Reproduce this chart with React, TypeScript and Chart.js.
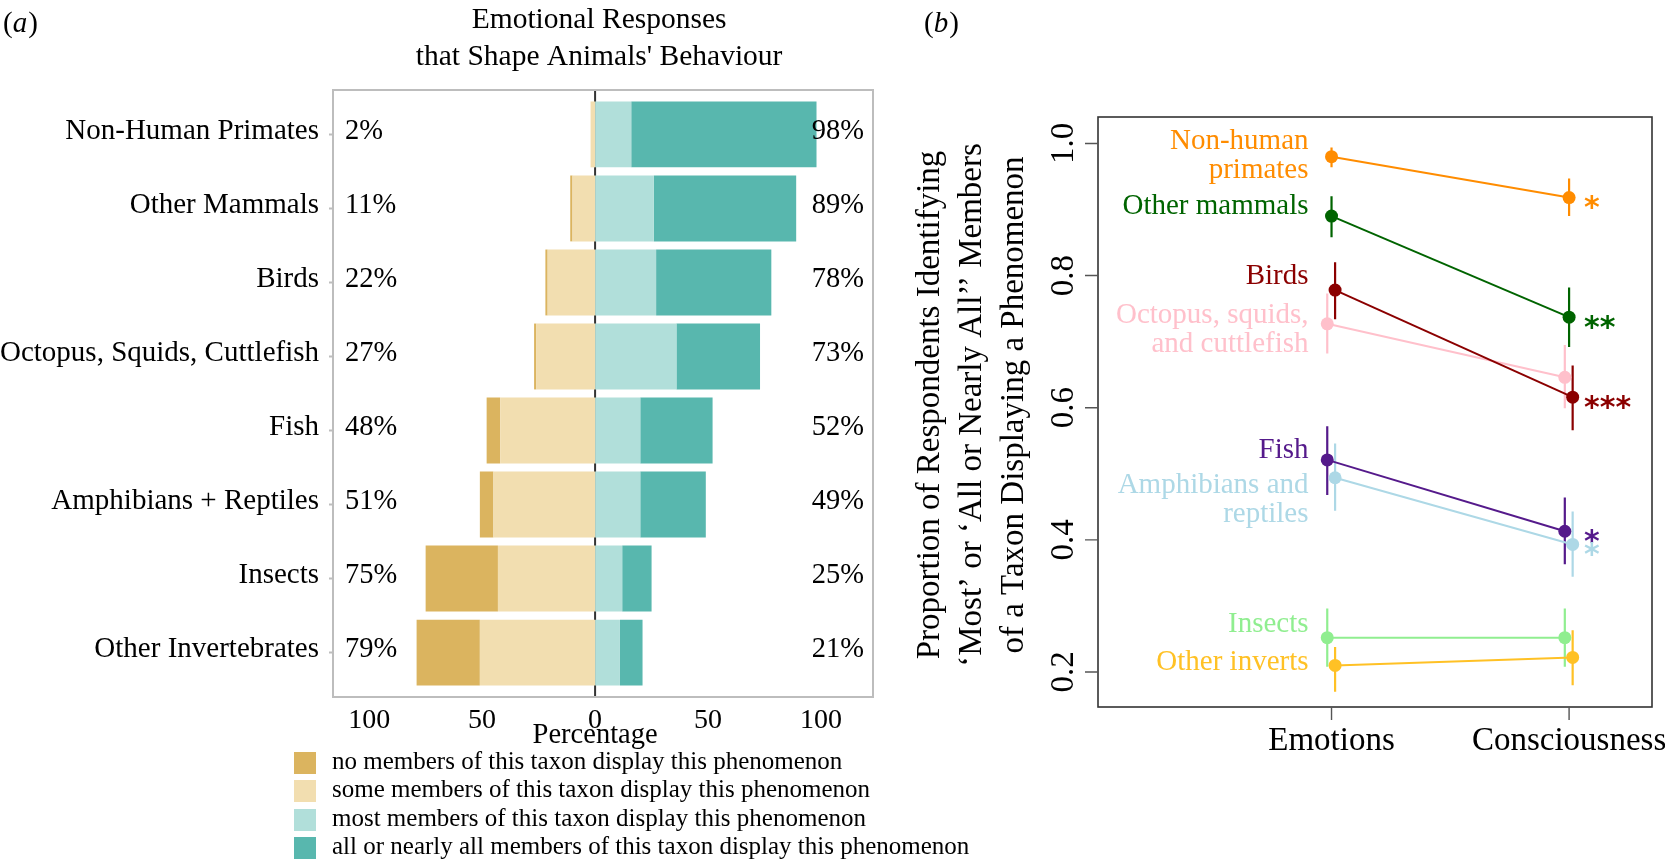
import { useEffect, useRef } from 'react';
import { Chart, registerables } from 'chart.js';

Chart.register(...registerables);

// ---- panel (a): diverging stacked bars ----
const taxa = [
  'Non-Human Primates',
  'Other Mammals',
  'Birds',
  'Octopus, Squids, Cuttlefish',
  'Fish',
  'Amphibians + Reptiles',
  'Insects',
  'Other Invertebrates',
];
const noneMembers = [0, 1, 1, 1, 6, 6, 32, 28];
const someMembers = [2, 10, 21, 26, 42, 45, 43, 51];
const mostMembers = [16, 26, 27, 36, 20, 20, 12, 11];
const allMembers = [82, 63, 51, 37, 32, 29, 13, 10];
const percentTicks = [-100, -50, 0, 50, 100];
const legendLabels = [
  'no members of this taxon display this phenomenon',
  'some members of this taxon display this phenomenon',
  'most members of this taxon display this phenomenon',
  'all or nearly all members of this taxon display this phenomenon',
];
const legendColors = ['#dbb45f', '#f2deb0', '#b1dfda', '#58b7ae'];

// ---- panel (b): proportions with error bars ----
const taxonLabels = [
  ['Non-human', 'primates'],
  ['Other mammals'],
  ['Birds'],
  ['Octopus, squids,', 'and cuttlefish'],
  ['Fish'],
  ['Amphibians and', 'reptiles'],
  ['Insects'],
  ['Other inverts'],
];
const taxonColors = ['#ff8c00', '#006400', '#8b0000', '#ffc0cb', '#551a8b', '#add8e6', '#90ee90', '#ffc125'];
const phenomena = ['Emotions', 'Consciousness'];
const emotionsProp = [0.98, 0.89, 0.778, 0.727, 0.521, 0.494, 0.252, 0.21];
const emotionsLow = [0.964, 0.858, 0.734, 0.682, 0.468, 0.444, 0.208, 0.17];
const emotionsHigh = [0.994, 0.92, 0.82, 0.773, 0.572, 0.546, 0.296, 0.238];
const consciousProp = [0.918, 0.737, 0.616, 0.646, 0.413, 0.393, 0.252, 0.222];
const consciousLow = [0.89, 0.692, 0.566, 0.599, 0.363, 0.344, 0.208, 0.18];
const consciousHigh = [0.947, 0.782, 0.664, 0.695, 0.464, 0.443, 0.296, 0.263];
const significance = ['*', '**', '***', '', '*', '*', '', ''];
const jitter = [0, 0, 0.015, -0.018, -0.018, 0.015, -0.018, 0.015];
const labelAnchor = [0.991, 0.893, 0.787, 0.728, 0.524, 0.471, 0.26, 0.203];
const proportionTicks = [0.2, 0.4, 0.6, 0.8, 1.0];
const yTitle = [
  'Proportion of Respondents Identifying',
  '\u2018Most\u2019 or \u2018All or Nearly All\u2019\u2019 Members',
  'of a Taxon Displaying a Phenomenon',
];

const serif = '"Liberation Serif", "Times New Roman", serif';

const leftDecor = {
  id: 'leftDecor',
  beforeDatasetsDraw(chart: any) {
    const { ctx, chartArea: a, scales } = chart;
    const x0 = scales.x.getPixelForValue(0);
    ctx.save();
    ctx.strokeStyle = '#333';
    ctx.lineWidth = 2;
    ctx.beginPath();
    ctx.moveTo(x0, a.top);
    ctx.lineTo(x0, a.bottom);
    ctx.stroke();
    ctx.restore();
  },
  afterDraw(chart: any) {
    const { ctx, chartArea: a, scales } = chart;
    const { x, y } = scales;
    ctx.save();
    ctx.strokeStyle = '#bdbdbd';
    ctx.lineWidth = 2;
    ctx.strokeRect(a.left, a.top, a.right - a.left, a.bottom - a.top);
    ctx.beginPath();
    taxa.forEach((_, i) => {
      const py = y.getPixelForValue(i);
      ctx.moveTo(a.left - 4, py);
      ctx.lineTo(a.left, py);
    });
    ctx.stroke();

    ctx.fillStyle = '#000';
    ctx.textBaseline = 'alphabetic';
    ctx.font = `29px ${serif}`;
    ctx.textAlign = 'right';
    taxa.forEach((t, i) => ctx.fillText(t, a.left - 14, y.getPixelForValue(i) + 4.5));

    ctx.font = `28.5px ${serif}`;
    taxa.forEach((_, i) => {
      const py = y.getPixelForValue(i) + 4.5;
      ctx.textAlign = 'left';
      ctx.fillText(`${noneMembers[i] + someMembers[i]}%`, a.left + 12, py);
      ctx.textAlign = 'right';
      ctx.fillText(`${mostMembers[i] + allMembers[i]}%`, a.right - 9, py);
    });

    ctx.textAlign = 'center';
    ctx.font = `28px ${serif}`;
    percentTicks.forEach((v) => ctx.fillText(String(Math.abs(v)), x.getPixelForValue(v), a.bottom + 31));
    ctx.font = `28.5px ${serif}`;
    ctx.fillText('Percentage', x.getPixelForValue(0), a.bottom + 46);

    const cx = x.getPixelForValue(0) + 4;
    ctx.font = `29.5px ${serif}`;
    ctx.fillText('Emotional Responses', cx, a.top - 62);
    ctx.fillText("that Shape Animals' Behaviour", cx, a.top - 25);

    ctx.textAlign = 'left';
    ctx.font = `29px ${serif}`;
    ctx.fillText('(', 3, 32);
    const w1 = ctx.measureText('(').width;
    ctx.font = `italic 29px ${serif}`;
    ctx.fillText('a', 3 + w1, 32);
    const w2 = ctx.measureText('a').width;
    ctx.font = `29px ${serif}`;
    ctx.fillText(')', 3 + w1 + w2 + 1, 32);
    ctx.restore();
  },
};

const rightDecor = {
  id: 'rightDecor',
  beforeDatasetsDraw(chart: any) {
    const { ctx, scales } = chart;
    const { x, y } = scales;
    ctx.save();
    ctx.lineWidth = 2.2;
    taxonColors.forEach((c, i) => {
      ctx.strokeStyle = c;
      ctx.beginPath();
      const xe = x.getPixelForValue(0 + jitter[i]);
      ctx.moveTo(xe, y.getPixelForValue(emotionsLow[i]));
      ctx.lineTo(xe, y.getPixelForValue(emotionsHigh[i]));
      const xc = x.getPixelForValue(1 + jitter[i]);
      ctx.moveTo(xc, y.getPixelForValue(consciousLow[i]));
      ctx.lineTo(xc, y.getPixelForValue(consciousHigh[i]));
      ctx.stroke();
    });
    ctx.restore();
  },
  afterDraw(chart: any) {
    const { ctx, chartArea: a, scales } = chart;
    const { x, y } = scales;
    ctx.save();
    ctx.strokeStyle = '#333';
    ctx.lineWidth = 1.6;
    ctx.strokeRect(a.left, a.top, a.right - a.left, a.bottom - a.top);

    ctx.strokeStyle = '#555';
    ctx.lineWidth = 1.4;
    ctx.beginPath();
    proportionTicks.forEach((v) => {
      const py = y.getPixelForValue(v);
      ctx.moveTo(a.left - 13, py);
      ctx.lineTo(a.left, py);
    });
    phenomena.forEach((_, i) => {
      const px = x.getPixelForValue(i);
      ctx.moveTo(px, a.bottom);
      ctx.lineTo(px, a.bottom + 13);
    });
    ctx.stroke();

    ctx.fillStyle = '#000';
    ctx.textBaseline = 'alphabetic';
    ctx.textAlign = 'center';
    ctx.font = `33px ${serif}`;
    proportionTicks.forEach((v) => {
      ctx.save();
      ctx.translate(a.left - 25, y.getPixelForValue(v));
      ctx.rotate(-Math.PI / 2);
      ctx.fillText(v.toFixed(1), 0, 0);
      ctx.restore();
    });
    phenomena.forEach((p, i) => ctx.fillText(p, x.getPixelForValue(i), a.bottom + 43));

    const midY = (a.top + a.bottom) / 2 - 7;
    const titleX = [a.left - 159, a.left - 117, a.left - 75];
    yTitle.forEach((t, k) => {
      ctx.save();
      ctx.translate(titleX[k], midY);
      ctx.rotate(-Math.PI / 2);
      ctx.fillText(t, 0, 0);
      ctx.restore();
    });

    ctx.textAlign = 'right';
    ctx.font = `29px ${serif}`;
    const labelX = x.getPixelForValue(0) - 23;
    taxonLabels.forEach((lines, i) => {
      ctx.fillStyle = taxonColors[i];
      const base = y.getPixelForValue(labelAnchor[i]);
      lines.forEach((l, k) => ctx.fillText(l, labelX, base + k * 29));
    });

    ctx.textAlign = 'left';
    ctx.font = 'bold 30px "DejaVu Sans", sans-serif';
    const starX = x.getPixelForValue(1) + 15;
    significance.forEach((s, i) => {
      if (!s) return;
      ctx.fillStyle = taxonColors[i];
      ctx.fillText(s, starX, y.getPixelForValue(consciousProp[i]) + 19.5);
    });

    ctx.fillStyle = '#000';
    ctx.font = `29px ${serif}`;
    const bx = a.left - 174;
    ctx.fillText('(', bx, 32);
    const w1 = ctx.measureText('(').width;
    ctx.font = `italic 29px ${serif}`;
    ctx.fillText('b', bx + w1, 32);
    const w2 = ctx.measureText('b').width;
    ctx.font = `29px ${serif}`;
    ctx.fillText(')', bx + w1 + w2 + 1, 32);
    ctx.restore();
  },
};

export default function App() {
  const leftRef = useRef<HTMLCanvasElement>(null);
  const rightRef = useRef<HTMLCanvasElement>(null);

  useEffect(() => {
    if (!leftRef.current || !rightRef.current) return;

    const toPoints = (vals: number[], sign: number) => vals.map((v, i) => ({ x: sign * v, y: i }));

    const left = new Chart(leftRef.current, {
      type: 'bar',
      data: {
        datasets: [
          { label: legendLabels[1], data: toPoints(someMembers, -1), backgroundColor: legendColors[1] },
          { label: legendLabels[0], data: toPoints(noneMembers, -1), backgroundColor: legendColors[0] },
          { label: legendLabels[2], data: toPoints(mostMembers, 1), backgroundColor: legendColors[2] },
          { label: legendLabels[3], data: toPoints(allMembers, 1), backgroundColor: legendColors[3] },
        ],
      },
      options: {
        indexAxis: 'y',
        animation: false,
        responsive: true,
        maintainAspectRatio: false,
        layout: { padding: { left: 333, right: 7, top: 90, bottom: 165 } },
        datasets: { bar: { barPercentage: 0.89, categoryPercentage: 1, borderWidth: 0 } },
        scales: {
          x: { type: 'linear', min: -116, max: 123, stacked: true, display: false },
          y: {
            type: 'linear',
            min: -0.6,
            max: 7.6,
            reverse: true,
            stacked: true,
            offset: false,
            display: false,
            afterBuildTicks: (scale: any) => {
              scale.ticks = taxa.map((_, i) => ({ value: i }));
            },
          },
        },
        plugins: { legend: { display: false }, tooltip: { enabled: false } },
      } as any,
      plugins: [leftDecor],
    });

    const right = new Chart(rightRef.current, {
      type: 'line',
      data: {
        datasets: taxonColors.map((c, i) => ({
          label: taxonLabels[i].join(' '),
          data: [
            { x: 0 + jitter[i], y: emotionsProp[i] },
            { x: 1 + jitter[i], y: consciousProp[i] },
          ],
          borderColor: c,
          backgroundColor: c,
          pointBackgroundColor: c,
          pointBorderColor: c,
          pointRadius: 6.5,
          pointBorderWidth: 0,
          borderWidth: 2,
          fill: false,
        })),
      },
      options: {
        animation: false,
        responsive: true,
        maintainAspectRatio: false,
        layout: { padding: { left: 218, right: 13, top: 117, bottom: 155 } },
        scales: {
          x: { type: 'linear', min: -0.983, max: 1.349, display: false },
          y: { type: 'linear', min: 0.147, max: 1.04, display: false },
        },
        plugins: { legend: { display: false }, tooltip: { enabled: false } },
      } as any,
      plugins: [rightDecor],
    });

    return () => {
      left.destroy();
      right.destroy();
    };
  }, []);

  return (
    <div style={{ position: 'absolute', left: 0, top: 0, width: 1665, height: 862, background: '#fff', overflow: 'hidden' }}>
      <div style={{ position: 'absolute', left: 0, top: 0, width: 880, height: 862 }}>
        <canvas ref={leftRef}></canvas>
      </div>
      <div style={{ position: 'absolute', left: 880, top: 0, width: 785, height: 862 }}>
        <canvas ref={rightRef}></canvas>
      </div>
      <div style={{ position: 'absolute', left: 294, top: 749, fontFamily: serif, fontSize: 25, color: '#000' }}>
        {legendLabels.map((l, i) => (
          <div
            key={l}
            style={{ position: 'absolute', left: 0, top: i * 28.3, height: 28, display: 'flex', alignItems: 'center', whiteSpace: 'nowrap' }}
          >
            <span style={{ display: 'inline-block', width: 22, height: 22, background: legendColors[i] }} />
            <span style={{ marginLeft: 16, position: 'relative', top: -2 }}>{l}</span>
          </div>
        ))}
      </div>
    </div>
  );
}
